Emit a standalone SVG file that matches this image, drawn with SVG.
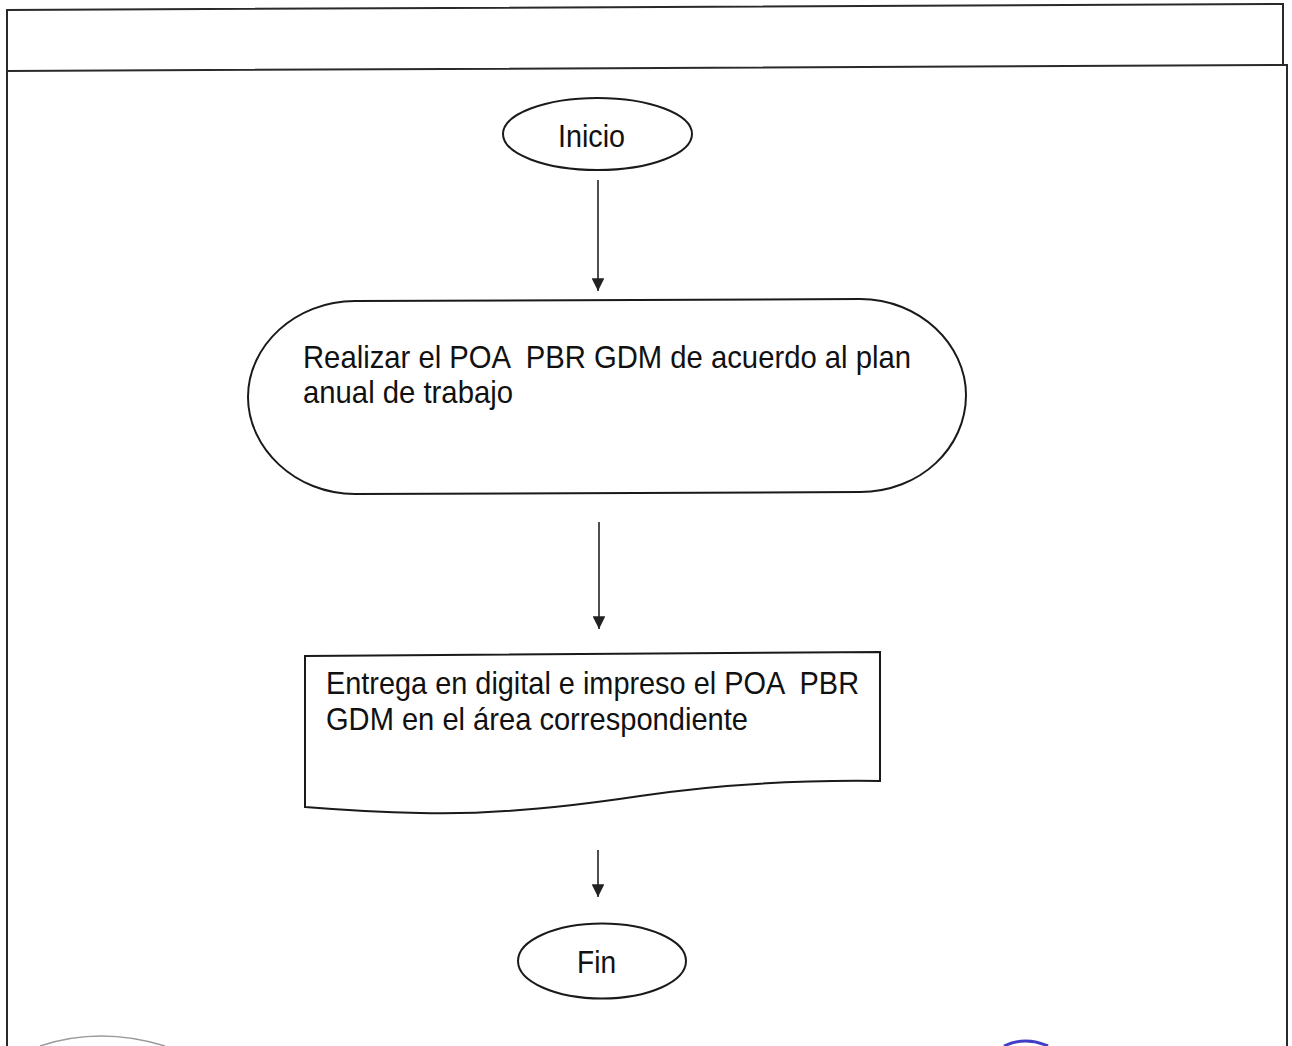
<svg xmlns="http://www.w3.org/2000/svg" width="1292" height="1046" viewBox="0 0 1292 1046">
  <style>
    .frame { fill: none; stroke: #2a2a2a; stroke-width: 2; }
    .shape { fill: #ffffff; stroke: #1a1a1a; stroke-width: 2; }
    .edge { fill: none; stroke: #222222; stroke-width: 1.6; }
    .label { font-family: "Liberation Sans", Arial, sans-serif; font-size: 30.5px; fill: #111111; white-space: pre; }
  </style>
  <defs>
    <marker id="arrow" viewBox="0 0 10 10" refX="10" refY="5" markerWidth="9" markerHeight="8" markerUnits="strokeWidth" orient="auto">
      <path d="M0,0 L10,5 L0,10 Z" fill="#222222"/>
    </marker>
  </defs>

  <rect width="1292" height="1046" fill="#ffffff"/>

  <!-- page frame with header band -->
  <g id="frame">
    <path class="frame" d="M7,1046 L7,10 L1283,4 L1283,66"/>
    <path class="frame" d="M7,71 L1287,65 L1287,1046"/>
  </g>

  <!-- connectors -->
  <g id="connectors">
    <line class="edge" x1="598" y1="180" x2="598" y2="291" marker-end="url(#arrow)"/>
    <line class="edge" x1="599" y1="522" x2="599" y2="629" marker-end="url(#arrow)"/>
    <line class="edge" x1="598" y1="850" x2="598" y2="897" marker-end="url(#arrow)"/>
  </g>

  <!-- start terminal -->
  <g id="inicio">
    <ellipse class="shape" cx="597.5" cy="134" rx="94.5" ry="36"/>
    <text class="label" x="558" y="147" textLength="67" lengthAdjust="spacingAndGlyphs">Inicio</text>
  </g>

  <!-- process step -->
  <g id="realizar">
    <path class="shape" d="M355,301 L860,299 C920,299 966,345 966,395 C966,448 920,492 860,492 L355,494 C295,494 248,448 248,397 C248,346 295,301 355,301 Z"/>
    <text class="label" x="303" y="368" xml:space="preserve" textLength="608" lengthAdjust="spacingAndGlyphs">Realizar el POA  PBR GDM de acuerdo al plan</text>
    <text class="label" x="303" y="403" textLength="210" lengthAdjust="spacingAndGlyphs">anual de trabajo</text>
  </g>

  <!-- document step -->
  <g id="entrega">
    <path class="shape" d="M305,656 L880,652 L880,781 C800,780 720,784 640,796 C560,808 480,815 420,813 C370,812 330,809 305,807 Z"/>
    <text class="label" x="326" y="694" xml:space="preserve" textLength="533" lengthAdjust="spacingAndGlyphs">Entrega en digital e impreso el POA  PBR</text>
    <text class="label" x="326" y="730" textLength="422" lengthAdjust="spacingAndGlyphs">GDM en el área correspondiente</text>
  </g>

  <!-- end terminal -->
  <g id="fin">
    <ellipse class="shape" cx="602" cy="961" rx="84" ry="37.5"/>
    <text class="label" x="577" y="973" textLength="39" lengthAdjust="spacingAndGlyphs">Fin</text>
  </g>

  <!-- stamp edges at the page foot -->
  <path d="M40,1046 Q100,1026 165,1046" fill="none" stroke="#9a9a9a" stroke-width="1.5"/>
  <path d="M1004,1046 Q1025,1036 1048,1046" fill="none" stroke="#3f3fc8" stroke-width="3"/>
</svg>
